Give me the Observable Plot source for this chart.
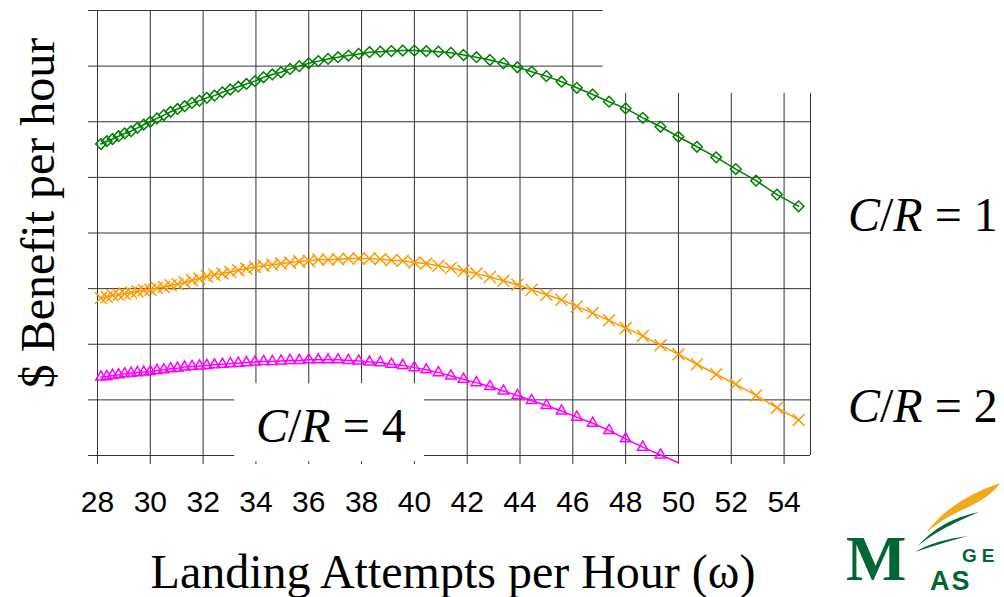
<!DOCTYPE html>
<html><head><meta charset="utf-8">
<script src="https://cdn.jsdelivr.net/npm/d3@7"></script>
<script src="https://cdn.jsdelivr.net/npm/@observablehq/plot@0.6"></script>
<style>html,body{margin:0;padding:0;background:#fff;} svg{display:block}</style>
</head><body><div id="chart"></div>
<script>
// Landing attempts per hour (x positions of the markers)
const omega = [28.13,28.35,28.57,28.80,29.03,29.27,29.51,29.75,30.00,30.25,
  30.51,30.77,31.03,31.30,31.58,31.86,32.14,32.43,32.73,33.03,
  33.33,33.64,33.96,34.29,34.62,34.95,35.29,35.64,36.00,36.36,
  36.73,37.11,37.50,37.89,38.30,38.71,39.13,39.56,40.00,40.45,
  40.91,41.38,41.86,42.35,42.86,43.37,43.90,44.44,45.00,45.57,
  46.15,46.75,47.37,48.00,48.65,49.32,50.00,50.70,51.43,52.17,
  52.94,53.73,54.55];
// $ benefit per hour (grid units, unlabeled axis)
const benefitCR1 = [5.60,5.65,5.69,5.74,5.79,5.83,5.89,5.95,6.00,6.06,
  6.12,6.18,6.23,6.28,6.34,6.38,6.43,6.47,6.53,6.58,
  6.63,6.68,6.73,6.80,6.85,6.89,6.95,7.00,7.05,7.09,
  7.13,7.16,7.19,7.22,7.25,7.26,7.27,7.28,7.28,7.27,
  7.26,7.24,7.20,7.16,7.11,7.05,6.98,6.90,6.82,6.72,
  6.61,6.49,6.36,6.24,6.07,5.91,5.73,5.55,5.36,5.15,
  4.94,4.69,4.48];
const benefitCR2 = [2.83,2.85,2.88,2.89,2.91,2.93,2.95,2.97,2.98,3.01,
  3.03,3.06,3.08,3.11,3.15,3.18,3.22,3.25,3.27,3.30,
  3.33,3.36,3.39,3.41,3.43,3.45,3.47,3.49,3.50,3.52,
  3.52,3.53,3.54,3.54,3.54,3.53,3.51,3.50,3.47,3.45,
  3.41,3.37,3.32,3.27,3.21,3.14,3.07,2.98,2.89,2.80,
  2.68,2.56,2.43,2.29,2.15,1.98,1.82,1.64,1.46,1.28,
  1.08,0.86,0.64];
const benefitCR4 = [1.41,1.42,1.44,1.45,1.47,1.48,1.49,1.50,1.51,1.53,
  1.54,1.56,1.57,1.59,1.60,1.61,1.62,1.63,1.64,1.65,
  1.66,1.67,1.68,1.69,1.69,1.70,1.71,1.71,1.72,1.72,
  1.72,1.72,1.71,1.70,1.68,1.67,1.64,1.62,1.58,1.54,
  1.49,1.43,1.37,1.31,1.24,1.16,1.08,0.99,0.90,0.80,
  0.69,0.58,0.45,0.30,0.15,0.01,-0.13];
const xTicks = [28,30,32,34,36,38,40,42,44,46,48,50,52,54];
const yTicks = [0,1,2,3,4,5,6,7,8];
const seriesNames = ["C/R = 1","C/R = 2","C/R = 4"];
const seriesValues = [benefitCR1, benefitCR2, benefitCR4];

const colors = ["#008000","#FF9900","#FF00FF"];
const symbols = ["diamond2","times","triangle2"];
const radii = [4.8,5.5,5];
const gridColor = "#333";
const xMax = 55;

const series = seriesValues.map((vals, k) =>
  vals.map((v, i) => ({w: omega[i], b: v, s: seriesNames[k]})));

// white text-box masks of the original slide (data units)
const masks = [
  {x1: 47.15, x2: 62.5, y1: 6.51, y2: 8.5},
  {x1: 33.19, x2: 40.38, y1: -0.11, y2: 1.29}
];

const marks = [
  Plot.ruleY(yTicks, {y: d => d, x1: xTicks[0], x2: xMax, stroke: gridColor, strokeWidth: 1}),
  Plot.ruleX(xTicks.concat([xMax]), {x: d => d, y1: 0, y2: 8, stroke: gridColor, strokeWidth: 1}),
  Plot.axisX({ticks: xTicks, tickSize: 9, tickPadding: 26, fontSize: 30, stroke: gridColor, label: null, tickFormat: d => String(d)}),
  Plot.axisY({ticks: yTicks, tickSize: 9, stroke: gridColor, label: null, tickFormat: () => ""}),
  Plot.rect(masks, {x1: "x1", x2: "x2", y1: "y1", y2: "y2", fill: "white"})
];
series.forEach((data, k) => {
  marks.push(Plot.line(data, {x: "w", y: "b", stroke: colors[k], strokeWidth: 1.5}));
  marks.push(Plot.dot(data.filter(d => d.b >= 0), {x: "w", y: "b", symbol: () => symbols[k], r: radii[k],
    stroke: colors[k], strokeWidth: 1.5, fill: "none"}));
});

const chart = Plot.plot({
  width: 1004, height: 597,
  marginLeft: 97, marginRight: 194, marginTop: 10, marginBottom: 142,
  x: {domain: [28, xMax]},
  y: {domain: [0, 8]},
  style: {fontFamily: "Liberation Sans", color: "#000", background: "white", overflow: "visible"},
  marks
});
document.getElementById("chart").appendChild(chart);

const svg = d3.select(chart);
const serif = "Liberation Serif";
svg.append("text")
  .attr("transform", "translate(54,213) rotate(-90)")
  .attr("text-anchor", "middle").attr("font-family", serif).attr("font-size", 48)
  .attr("fill", "#000").text("$ Benefit per hour");
svg.append("text")
  .attr("x", 453).attr("y", 588)
  .attr("text-anchor", "middle").attr("font-family", serif).attr("font-size", 48)
  .attr("fill", "#000").text("Landing Attempts per Hour (\u03C9)");

function crLabel(x, y, n) {
  const t = svg.append("text").attr("x", x).attr("y", y).attr("text-anchor", "start")
    .attr("font-family", serif).attr("font-size", 48).attr("fill", "#000");
  t.append("tspan").attr("font-style", "italic").text("C");
  t.append("tspan").text("/");
  t.append("tspan").attr("font-style", "italic").text("R");
  t.append("tspan").text("\u00A0=\u00A0" + n);
}
crLabel(848, 231, "1");
crLabel(848, 422, "2");
crLabel(256, 442, "4");

// logo (corner)
const logo = svg.append("g").attr("text-anchor", "start");
logo.append("path").attr("fill", "#F2A91C")
  .attr("d", "M926,533 Q950,500 1000,483 Q990,498 962,510 Q940,520 926,533 Z");
logo.append("path").attr("fill", "#006633")
  .attr("d", "M918,546 Q940,520 979,512 Q955,522 938,532 Q926,539 918,546 Z");
logo.append("path").attr("fill", "#006633")
  .attr("d", "M915,552 Q935,540 968,536 Q945,542 915,552 Z");
logo.append("text").attr("x", 846).attr("y", 580).attr("font-family", serif)
  .attr("font-weight", "bold").attr("font-size", 64).attr("fill", "#006633").text("M");
logo.append("text").attr("x", 962).attr("y", 562).attr("font-family", "Liberation Sans")
  .attr("font-weight", "bold").attr("font-size", 19).attr("letter-spacing", 5).attr("fill", "#006633").text("GE");
logo.append("text").attr("x", 930).attr("y", 590).attr("font-family", "Liberation Sans")
  .attr("font-weight", "bold").attr("font-size", 27).attr("letter-spacing", 2).attr("fill", "#006633").text("AS");
</script>
</body></html>
